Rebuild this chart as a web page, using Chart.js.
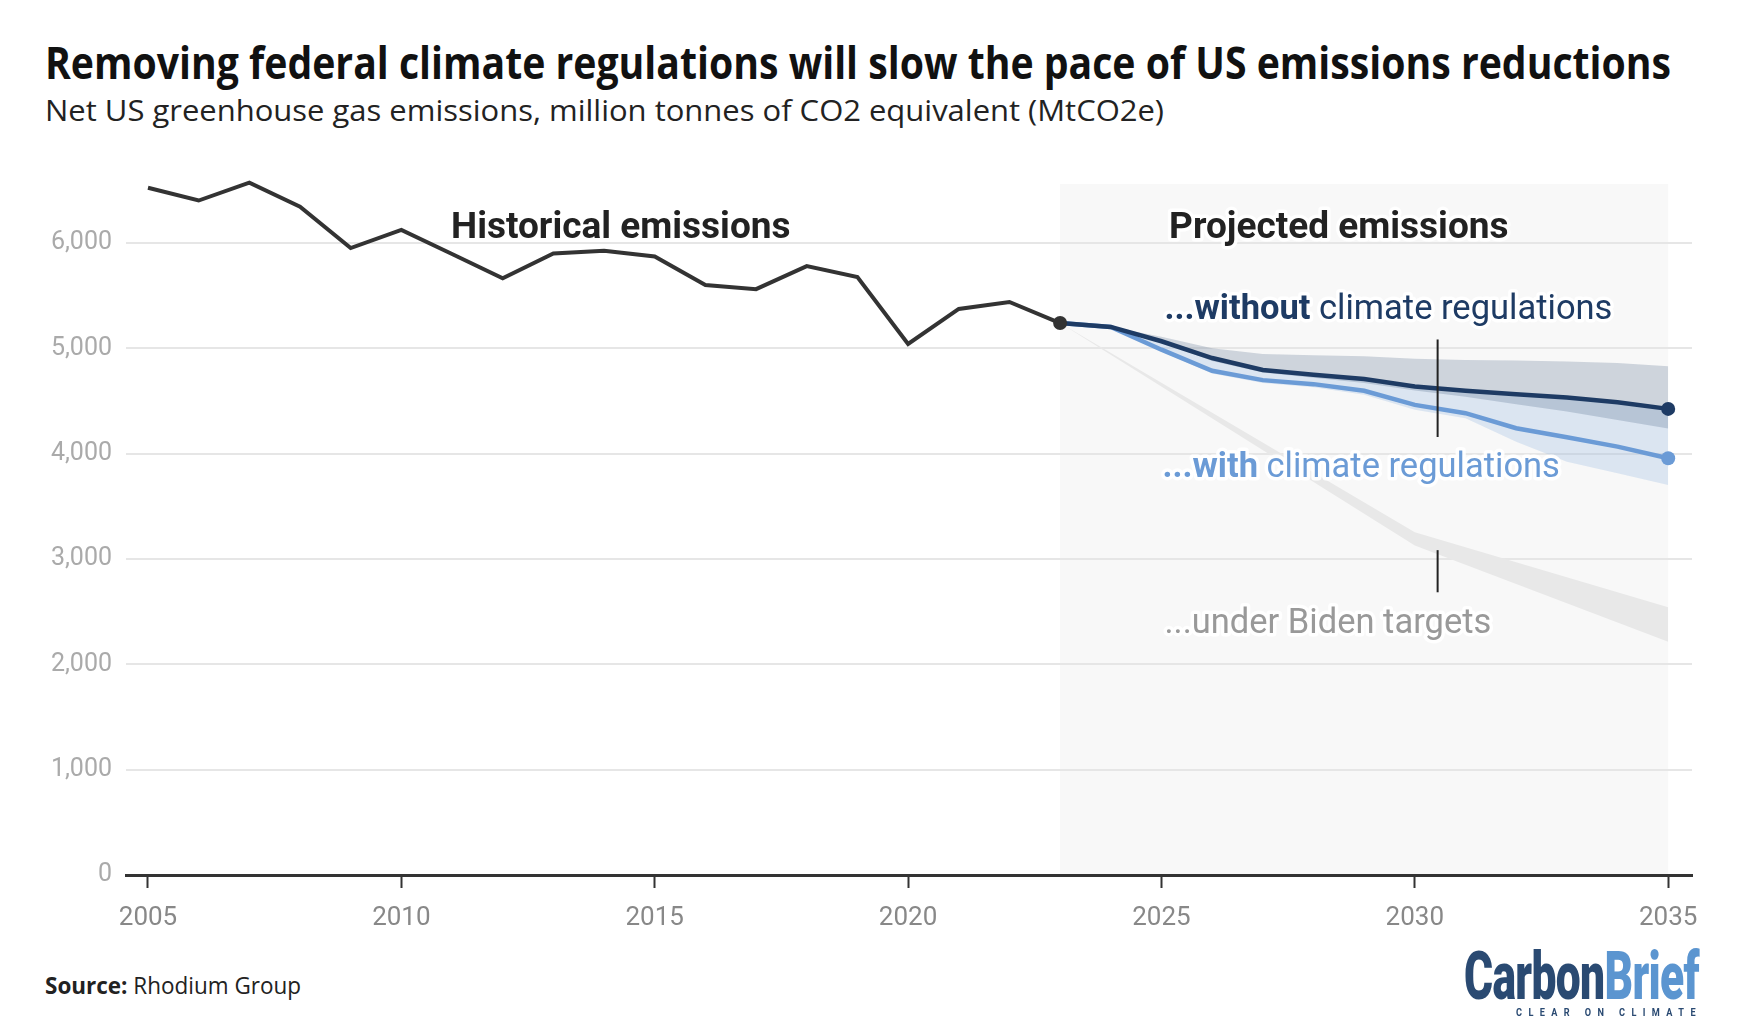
<!DOCTYPE html>
<html>
<head>
<meta charset="utf-8">
<script src="https://cdn.jsdelivr.net/npm/chart.js@4"></script>
<style>
  html, body { margin: 0; padding: 0; background: #fff; }
  body { width: 1738px; height: 1034px; position: relative; overflow: hidden; font-family: "Open Sans", "Noto Sans", sans-serif; }
  .fit { position: absolute; white-space: nowrap; transform-origin: left top; }
  #title { left: 45px; top: 36px; font-size: 44px; font-weight: 700; color: #111; line-height: 52px; }
  #subtitle { left: 45px; top: 93px; font-size: 29px; color: #222; line-height: 34px; }
  #source { left: 45px; top: 970px; font-size: 23px; color: #222; line-height: 30px; }
  #chartBox { position: absolute; left: 0; top: 148px; width: 1738px; height: 800px; }
  #logo { left: 1464px; top: 944px; font-family: Roboto, sans-serif; font-size: 66px; font-weight: 900; line-height: 66px; letter-spacing: -1px; }
  #tagline { left: 1516px; top: 1007px; font-family: Roboto, sans-serif; font-size: 10px; font-weight: 700; color: #2a4a72; letter-spacing: 7px; line-height: 12px; }
</style>
</head>
<body>
<div id="title" class="fit" data-w="1626">Removing federal climate regulations will slow the pace of US emissions reductions</div>
<div id="subtitle" class="fit" data-w="1119">Net US greenhouse gas emissions, million tonnes of CO2 equivalent (MtCO2e)</div>
<div id="chartBox"><canvas id="chart"></canvas></div>
<div id="source" class="fit" data-w="256"><b>Source:</b> Rhodium Group</div>
<div id="logo" class="fit" data-w="235"><span style="color:#2a4a72">Carbon</span><span style="color:#5b95d0">Brief</span></div>
<div id="tagline" class="fit" data-w="186">CLEAR ON CLIMATE</div>
<script>
// Datos (MtCO2e)
const histYears = [2005, 2006, 2007, 2008, 2009, 2010, 2011, 2012, 2013, 2014, 2015, 2016, 2017, 2018, 2019, 2020, 2021, 2022, 2023];
const histValues = [6524, 6403, 6572, 6345, 5952, 6125, 5895, 5665, 5901, 5927, 5872, 5601, 5562, 5780, 5677, 5042, 5374, 5440, 5240];

const projYears = [2023, 2024, 2025, 2026, 2027, 2028, 2029, 2030, 2031, 2032, 2033, 2034, 2035];
const withoutRegs = [5240, 5203, 5067, 4908, 4794, 4749, 4708, 4638, 4597, 4565, 4533, 4489, 4425];
const withoutHigh = [5240, 5203, 5110, 5000, 4945, 4935, 4925, 4900, 4890, 4885, 4875, 4860, 4830];
const withoutLow = [5240, 5203, 5060, 4880, 4770, 4720, 4670, 4600, 4540, 4470, 4400, 4320, 4240];
const withRegs = [5240, 5203, 4987, 4787, 4698, 4660, 4597, 4463, 4384, 4241, 4156, 4067, 3956];
const withHigh = [5240, 5203, 5067, 4908, 4794, 4749, 4708, 4638, 4597, 4565, 4533, 4489, 4425];
const withLow = [5240, 5203, 4970, 4760, 4670, 4630, 4560, 4416, 4337, 4114, 3924, 3813, 3702];

const bidenYears = [2023, 2030, 2035];
const bidenHigh = [5240, 3253, 2541];
const bidenLow = [5240, 3127, 2215];

const xTicks = [2005, 2010, 2015, 2020, 2025, 2030, 2035];
const yTicks = [0, 1000, 2000, 3000, 4000, 5000, 6000];

const NAVY = "#1e3b64";
const LIGHT = "#6b9bd6";

// Ajustar ancho de los textos HTML
document.querySelectorAll(".fit[data-w]").forEach(el => {
    const w = el.getBoundingClientRect().width;
    el.style.transform = `scaleX(${Number(el.dataset.w) / w})`;
});

function pts(xs, ys) {
    return xs.map((x, i) => ({ x: x, y: ys[i] }));
}

function endDot(ctx) {
    return ctx.dataIndex === ctx.dataset.data.length - 1 ? 7 : 0;
}

// Fondo gris de la zona proyectada
const projectedBg = {
    id: "projectedBg",
    beforeDraw(chart) {
        const { ctx, scales: { x, y }, chartArea } = chart;
        ctx.save();
        ctx.fillStyle = "#f8f8f8";
        const left = x.getPixelForValue(projYears[0]);
        const right = x.getPixelForValue(projYears[projYears.length - 1]);
        ctx.fillRect(left, y.getPixelForValue(6560), right - left, chartArea.bottom - y.getPixelForValue(6560));
        ctx.restore();
    }
};

// Etiquetas de texto con halo blanco
function haloText(ctx, parts, px, py, align) {
    let total = 0;
    parts.forEach(p => { ctx.font = p.font; total += ctx.measureText(p.text).width; });
    let cx = align === "center" ? px - total / 2 : px;
    ctx.textBaseline = "middle";
    ctx.textAlign = "left";
    parts.forEach(p => {
        ctx.font = p.font;
        ctx.lineWidth = 7;
        ctx.lineJoin = "round";
        ctx.strokeStyle = "rgba(255,255,255,0.9)";
        ctx.strokeText(p.text, cx, py);
        ctx.fillStyle = p.color;
        ctx.fillText(p.text, cx, py);
        cx += ctx.measureText(p.text).width;
    });
}

const labels = {
    id: "labels",
    afterDatasetsDraw(chart) {
        const { ctx, scales: { x, y } } = chart;
        ctx.save();
        // marcas verticales
        ctx.strokeStyle = "#222";
        ctx.lineWidth = 2;
        [[5084, 4158], [3084, 2684]].forEach(([a, b]) => {
            ctx.beginPath();
            ctx.moveTo(x.getPixelForValue(2030.45), y.getPixelForValue(a));
            ctx.lineTo(x.getPixelForValue(2030.45), y.getPixelForValue(b));
            ctx.stroke();
        });
        const B = "700 37px Roboto", R = "400 34.5px Roboto", RB = "700 34.5px Roboto";
        haloText(ctx, [{ text: "Historical emissions", font: B, color: "#222" }], x.getPixelForValue(2014.33), y.getPixelForValue(6135), "center");
        haloText(ctx, [{ text: "Projected emissions", font: B, color: "#222" }], x.getPixelForValue(2028.5), y.getPixelForValue(6135), "center");
        haloText(ctx, [{ text: "...without", font: RB, color: NAVY }, { text: " climate regulations", font: R, color: NAVY }], x.getPixelForValue(2025.06), y.getPixelForValue(5360), "left");
        haloText(ctx, [{ text: "...with", font: RB, color: LIGHT }, { text: " climate regulations", font: R, color: LIGHT }], x.getPixelForValue(2025.02), y.getPixelForValue(3865), "left");
        haloText(ctx, [{ text: "...under Biden targets", font: R, color: "#999" }], x.getPixelForValue(2025.06), y.getPixelForValue(2380), "left");
        ctx.restore();
    }
};

new Chart(document.getElementById("chart"), {
    type: "line",
    data: {
        datasets: [
            { label: "hist", data: pts(histYears, histValues), borderColor: "#333", backgroundColor: "#333", borderWidth: 4, pointRadius: endDot, pointBorderWidth: 0, clip: false, order: 1, tension: 0 },
            { label: "without", data: pts(projYears, withoutRegs), borderColor: NAVY, backgroundColor: NAVY, borderWidth: 4.5, pointRadius: endDot, pointBorderWidth: 0, clip: false, order: 2 },
            { label: "with", data: pts(projYears, withRegs), borderColor: LIGHT, backgroundColor: LIGHT, borderWidth: 4.5, pointRadius: endDot, pointBorderWidth: 0, clip: false, order: 3 },
            { label: "withoutHigh", data: pts(projYears, withoutHigh), borderWidth: 0, pointRadius: 0, order: 10 },
            { label: "withoutLow", data: pts(projYears, withoutLow), borderWidth: 0, pointRadius: 0, fill: { target: 3 }, backgroundColor: "rgba(40,70,110,0.2)", order: 9 },
            { label: "withHigh", data: pts(projYears, withHigh), borderWidth: 0, pointRadius: 0, order: 12 },
            { label: "withLow", data: pts(projYears, withLow), borderWidth: 0, pointRadius: 0, fill: { target: 5 }, backgroundColor: "rgba(107,155,214,0.2)", order: 11 },
            { label: "bidenHigh", data: pts(bidenYears, bidenHigh), borderWidth: 0, pointRadius: 0, order: 14 },
            { label: "bidenLow", data: pts(bidenYears, bidenLow), borderWidth: 0, pointRadius: 0, fill: { target: 7 }, backgroundColor: "#e8e8e8", order: 13 }
        ]
    },
    options: {
        responsive: true,
        maintainAspectRatio: false,
        animation: false,
        layout: { padding: { top: 36, right: 46, left: 0, bottom: 0 } },
        plugins: { legend: { display: false }, tooltip: { enabled: false } },
        scales: {
            x: {
                type: "linear",
                min: 2004.566,
                max: 2035.47,
                afterBuildTicks: axis => { axis.ticks = xTicks.map(v => ({ value: v })); },
                afterFit: axis => { axis.height = 73; },
                ticks: { color: "#888", font: { family: "Roboto", size: 26 }, padding: 15, callback: v => String(v) },
                grid: { drawOnChartArea: false, drawTicks: true, tickLength: 13, tickWidth: 2, color: "#333" },
                border: { display: true, color: "#333", width: 3 }
            },
            y: {
                min: 0,
                max: 6560,
                afterBuildTicks: axis => { axis.ticks = yTicks.map(v => ({ value: v })); },
                afterFit: axis => { axis.width = 126; },
                ticks: { color: "#aaa", font: { family: "Roboto", size: 25 }, padding: 14, callback: v => v.toLocaleString("en-US") },
                grid: { color: "#e6e6e6", lineWidth: 2, drawTicks: false },
                border: { display: false }
            }
        }
    },
    plugins: [projectedBg, labels]
});
</script>
</body>
</html>
